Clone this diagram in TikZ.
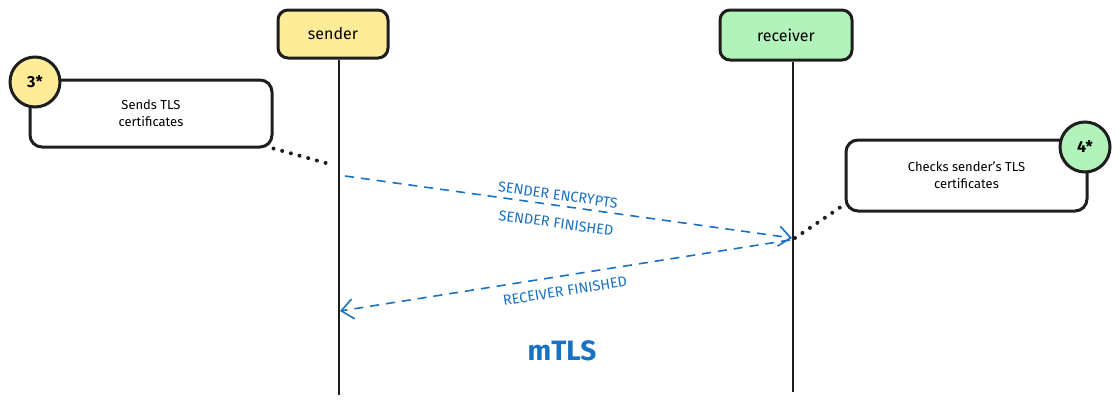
\documentclass[tikz,border=0pt]{standalone}
\usepackage{fontspec}
\setmainfont{Fira Sans}
\usetikzlibrary{arrows.meta}
\definecolor{ylw}{HTML}{FFEC99}
\definecolor{grn}{HTML}{B2F2BB}
\definecolor{blu}{HTML}{1971C2}
\definecolor{ink}{HTML}{1E1E1E}
\begin{document}
\begin{tikzpicture}[x=1pt,y=-1pt,
  actor/.style={draw=ink,line width=3pt,rounded corners=10pt,font=\fontsize{16}{19}\selectfont},
  note/.style={draw=ink,line width=3pt,rounded corners=12pt,fill=white,align=center,font=\fontsize{13}{17}\selectfont},
  badge/.style={draw=ink,line width=3pt,circle,minimum size=50pt,inner sep=0pt,font=\fontsize{16}{19}\selectfont\bfseries},
  life/.style={draw=ink,line width=1.6pt},
  dots/.style={draw=ink,line width=4pt,line cap=round,dash pattern=on 0pt off 9pt},
  msg/.style={draw=blu,line width=1.6pt,dash pattern=on 9pt off 7pt,-{Straight Barb[length=12pt,width=20pt,line width=1.6pt]}},
  lbl/.style={text=blu,inner sep=1pt,font=\fontsize{14.5}{16}\selectfont}
]
\useasboundingbox (0,0) rectangle (1120,407);
% actors
\node[actor,fill=ylw,minimum width=110pt,minimum height=48pt] (snd) at (333,34) {sender};
\node[actor,fill=grn,minimum width=132pt,minimum height=50pt] (rcv) at (786,35) {receiver};
\coordinate (sb) at (339,395);
\coordinate (rb) at (793,392);
\draw[life] (snd.south -| sb) -- (sb);
\draw[life] (rcv.south -| rb) -- (rb);
% notes
\node[note,minimum width=242pt,minimum height=67pt] (n3) at (151,113.5) {Sends TLS\\certificates};
\node[badge,fill=ylw] (b3) at (35,82) {3*};
\node[note,minimum width=241pt,minimum height=71pt] (n4) at (966.5,175.5) {Checks sender's TLS\\certificates};
\node[badge,fill=grn] (b4) at (1085,147) {4*};
% connectors from notes
\coordinate (d3) at (333,165);
\coordinate (d4) at (795,238);
\draw[dots] (n3.south east) -- (d3);
\draw[dots] (d4) -- ([shift={(-3,-6)}]n4.south west);
% messages
\coordinate (m1s) at (345,176);
\coordinate (m1e) at (792,238);
\coordinate (m2s) at (790,240);
\coordinate (m2e) at (340,311);
\draw[msg] (m1s) -- (m1e);
\draw[msg] (m2s) -- (m2e);
\node[lbl,rotate=-7.9] (l1) at (558,195) {SENDER ENCRYPTS};
\node[lbl,rotate=-7.9] (l2) at (556,223) {SENDER FINISHED};
\node[lbl,rotate=9] (l3) at (565,291) {RECEIVER FINISHED};
\node[text=blu,font=\fontsize{28}{32}\selectfont\bfseries] (t) at (562,351) {mTLS};
\end{tikzpicture}
\end{document}
